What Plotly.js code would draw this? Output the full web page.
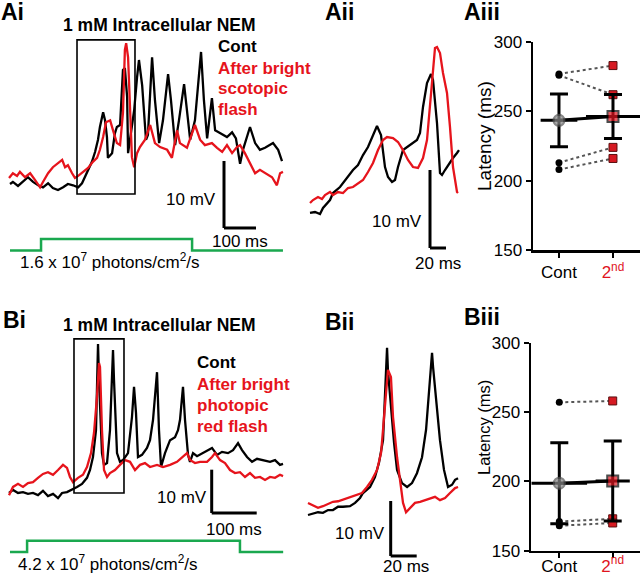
<!DOCTYPE html>
<html><head><meta charset="utf-8">
<script src="https://cdn.plot.ly/plotly-3.0.1.min.js"></script>
<style>html,body{margin:0;padding:0;background:#fff;} #plot{width:640px;height:576px;}</style>
</head><body><div id="plot"></div>
<script>
// ---------- DATA ----------
// Panel Ai : time (ms) / membrane potential (mV, relative to baseline)
const aiTimeCont = [0,9,25,41,56,72,88,103,119,134,150,166,181,197,213,225,234,244,256,266,275,281,291,297,303,306,319,328,334,344,350,353,359,366,369,375,388,397,403,413,425,431,444,453,466,478,494,503,516,528,544,553,563,578,597,606,616,631,641,656,678,694,706,719,728,750,766,781,797,822,838,850];
const aiVCont = [0.9,1.2,0.6,1.2,1.9,1.2,0.7,0.4,1.0,0.3,0,0.4,0.9,0.7,0.4,1.0,1.9,3.0,4.2,5.7,7.5,9.4,11.6,10.4,7.9,4.8,5.5,8.5,9.4,9.7,14.9,17.9,18.2,13.9,5.5,7.5,11.9,16.8,19.4,15.6,7.5,8.2,19.8,13.4,7.0,10.4,17.3,13.4,6.7,10.4,15.8,11.9,7.5,10.4,20.6,13.4,7.7,13.7,8.9,8.5,7.9,8.6,7.7,3.9,6.0,9.4,7.0,6.0,6.3,7.0,6.0,4.3];
const aiTimeFlash = [-3,9,22,31,47,63,78,94,103,119,134,150,163,172,181,194,203,213,228,244,259,272,281,291,300,313,322,334,344,353,359,363,369,375,381,388,397,406,422,438,453,469,491,506,522,531,553,578,594,609,631,647,663,678,694,709,719,734,750,766,781,797,819,834,844,853];
const aiVFlash = [1.8,2.5,2.1,2.7,1.9,2.5,1.5,0.4,1.2,2.5,3.4,4.0,4.5,3.4,3.7,2.5,1.8,2.1,2.7,3.3,4.2,4.8,6.0,7.9,10.1,10.4,8.9,7.0,6.7,11.5,20.9,21.9,19.8,11.5,4.9,3.4,5.5,6.4,7.5,9.7,7.0,6.4,6.0,4.8,8.9,7.0,6.3,9.7,7.5,6.7,7.0,6.3,5.7,6.7,5.5,6.4,6.7,5.5,4.0,2.5,3.0,2.5,1.9,0.7,2.5,2.7];
const stimATime = [0,97,97,569,569,853];
const stimALevel = [0,0,1,1,0,0];

// Panel Aii
const aiiTimeCont = [2.5,8.75,15,18.75,27.5,31.25,40,48.75,56.25,62.5,68.75,75,81.25,86.25,91.25,96.25,100,105,108.75,112.5,118.75,123.75,130,136.25,140,143.75,148.75,153.75,156.25,161.25,165,167.5,171.25,175,181.25,186.25,188.75];
const aiiVCont = [0.26,0.38,0.13,0.9,1.92,2.82,3.59,4.74,5.77,6.41,7.69,8.72,10.26,11.41,10.26,6.15,4.87,4.23,4.49,6.15,8.33,8.72,9.23,9.62,10.51,13.85,16.92,18.08,17.31,11.79,5.38,5.13,5.77,6.41,7.31,7.95,8.33];
const aiiTimeFlash = [2.5,6.25,12.5,17.5,21.25,27.5,31.25,37.5,43.75,50,56.25,62.5,68.75,75,81.25,87.5,93.75,98.75,106.25,112.5,118.75,125,131.25,137.5,143.75,148.75,152.5,156.25,158.75,161.25,165,168.75,173.75,177.5,181.25,186.25,187.5];
const aiiVFlash = [1.54,1.92,2.31,2.05,2.56,2.95,2.56,2.95,2.82,3.46,3.59,4.10,4.49,5.51,6.67,8.33,9.62,10.0,9.87,9.36,8.33,7.05,6.15,6.03,7.31,9.62,13.85,18.97,21.41,21.54,20.77,18.21,15.64,11.28,6.15,2.95,2.82];

// Panel Aiii : latency (ms)
const groups = ['Cont', '2nd'];
const aiiiCont = [277, 276, 213, 208];
const aiiiSecond = [283, 262, 224, 216];

// Panel Bi
const biTimeCont = [-2.2,6.7,17.8,28.9,40,51.1,62.2,73.3,84.4,95.6,106.7,115.6,126.7,137.8,148.9,160,171.1,177.8,184.4,191.1,195.6,197.8,204.4,208.9,215.6,222.2,228.9,231.1,237.8,244.4,251.1,262.2,271.1,275.6,280,284.4,293.3,304.4,311.1,317.8,326.7,331.1,335.6,344.4,355.6,366.7,373.3,377.8,384.4,388.9,395.6,400,406.7,415.6,426.7,437.8,448.9,460,471.1,484.4,495.6,506.7,515.6,526.7,537.8,548.9,562.2,577.8,588.9,600,606.7];
const biVCont = [0,0.7,0,0.2,-0.2,0,-0.5,0.5,-0.7,-0.2,-1.2,0,0.2,0.9,1.4,2.1,3.5,5.3,8.3,14.5,34.4,26.1,9.2,6.5,6.9,14.5,33.0,26.1,9.2,7.2,7.6,9.2,17.6,24.5,18.5,8.3,8.8,10.4,12.2,16.9,27.9,14.5,6.0,9.2,12.2,12.9,14.5,16.9,24.5,16.9,8.8,7.2,9.2,8.5,9.2,9.7,10.4,8.8,9.5,9.2,9.9,11.5,9.9,8.3,7.2,7.9,7.6,7.2,7.6,6.5,6.7];
const biTimeFlash = [-2.2,6.7,17.8,28.9,40,51.1,62.2,73.3,84.4,95.6,106.7,117.8,126.7,133.3,140,151.1,162.2,171.1,180,186.7,193.3,197.8,200,204.4,208.9,215.6,222.2,233.3,244.4,255.6,266.7,277.8,288.9,300,311.1,326.7,340,355.6,371.1,382.2,393.3,400,411.1,422.2,437.8,448.9,455.6,466.7,477.8,488.9,500,511.1,522.2,533.3,544.4,555.6,566.7,577.8,588.9,600,606.7];
const biVFlash = [-0.5,1.4,2.1,1.4,2.3,2.5,3.5,4.4,4.8,4.2,5.3,6.5,5.8,3.7,2.5,3.5,4.2,6.0,9.2,13.9,22.2,30.0,29.1,14.5,5.3,3.7,4.6,5.3,6.5,7.6,7.2,5.3,6.5,6.9,6.0,6.5,6.0,6.5,7.2,8.1,9.2,7.6,6.9,7.2,7.2,8.3,9.2,7.6,6.9,5.3,4.6,4.8,3.7,4.6,3.5,3.7,3.0,3.7,3.5,4.2,3.9];
const stimBTime = [0,38,38,511,511,607];
const stimBLevel = [0,0,1,1,0,0];

// Panel Bii
const biiTimeCont = [0,3.8,7.7,11.5,15.4,19.2,23.1,26.9,32.3,36.2,40,42.3,47.7,51.5,54.6,57.7,59.2,60.8,61.5,63.8,66.2,68.5,72.3,76.2,80,83.8,87.7,90.8,93.1,95.4,96.2,99.2,101.5,104.6,107.7,110.8,113.1,115.4];
const biiVCont = [0,0.2,0.5,0.4,0.9,0.9,1.5,1.5,1.6,2.2,3.1,4.0,5.1,6.9,9.5,13.6,21.3,30.4,26.2,19.1,13.1,8.2,5.8,5.1,5.8,7.6,10.5,15.5,22.7,29.5,26.9,19.6,13.6,8.2,5.1,5.5,6.4,6.7];
const biiTimeFlash = [0,3.8,7.7,11.5,15.4,19.2,23.1,28.5,32.3,37.7,41.5,45.4,49.2,53.1,56.2,57.7,60,61.5,63.8,65.4,68.5,70.8,73.1,75.4,78.5,82.3,86.2,90,93.8,97.7,101.5,105.4,109.2,113.1,115.4];
const biiVFlash = [2.2,1.8,1.3,1.6,2.0,2.4,2.5,2.9,3.3,3.6,4.0,5.1,6.4,8.2,11.3,15.5,21.5,26.4,25.1,17.8,10.5,5.8,2.2,0.5,1.3,2.2,2.4,2.7,3.1,3.3,2.7,3.1,4.0,4.9,5.1];

// Panel Biii : latency (ms)
const biiiCont = [257, 171, 168];
const biiiSecond = [258, 173, 170];

// ---------- HELPERS ----------
const W = 640, H = 576;
const FONT = 'Liberation Sans, Arial, Helvetica, sans-serif';
const RED = '#e6141c', GREEN = '#1aa84f', BLACK = '#000000';
const px = x => x / W;
const py = y => 1 - y / H;
const mean = a => a.reduce((s, v) => s + v, 0) / a.length;
const sem = a => { const m = mean(a); return Math.sqrt(a.reduce((s, v) => s + (v - m) * (v - m), 0) / (a.length - 1)) / Math.sqrt(a.length); };

const traces = [];
function trace(x, y, xa, ya, color, width) {
  traces.push({x: x, y: y, xaxis: xa, yaxis: ya, type: 'scatter', mode: 'lines',
    line: {color: color, width: width}, hoverinfo: 'skip'});
}
// Ai
trace(aiTimeCont, aiVCont, 'x', 'y', BLACK, 2.3);
trace(aiTimeFlash, aiVFlash, 'x', 'y', RED, 2.3);
trace(stimATime, stimALevel, 'x', 'y2', GREEN, 2.5);
// Aii
trace(aiiTimeCont, aiiVCont, 'x3', 'y3', BLACK, 2.3);
trace(aiiTimeFlash, aiiVFlash, 'x3', 'y3', RED, 2.3);
// Bi
trace(biTimeCont, biVCont, 'x5', 'y5', BLACK, 2.3);
trace(biTimeFlash, biVFlash, 'x5', 'y5', RED, 2.3);
trace(stimBTime, stimBLevel, 'x5', 'y6', GREEN, 2.5);
// Bii
trace(biiTimeCont, biiVCont, 'x7', 'y7', BLACK, 2.3);
trace(biiTimeFlash, biiVFlash, 'x7', 'y7', RED, 2.3);

function latencyPanel(cont, second, xa, ya, meanBarHalf) {
  for (let i = 0; i < cont.length; i++) {
    traces.push({x: [0, 1], y: [cont[i], second[i]], xaxis: xa, yaxis: ya, mode: 'lines',
      line: {color: '#555555', width: 2, dash: 'dot'}, hoverinfo: 'skip'});
  }
  traces.push({x: cont.map(() => 0), y: cont, xaxis: xa, yaxis: ya, mode: 'markers',
    marker: {symbol: 'circle', size: 7, color: BLACK}, hoverinfo: 'skip'});
  traces.push({x: second.map(() => 1), y: second, xaxis: xa, yaxis: ya, mode: 'markers',
    marker: {symbol: 'square', size: 8, color: '#d61a22', line: {color: '#5a1010', width: 1}}, hoverinfo: 'skip'});
  traces.push({x: [0, 1], y: [mean(cont), mean(second)], xaxis: xa, yaxis: ya, mode: 'lines+markers',
    line: {color: BLACK, width: 3},
    error_y: {type: 'data', array: [sem(cont), sem(second)], color: BLACK, thickness: 3, width: 9},
    error_x: {type: 'data', array: meanBarHalf, color: BLACK, thickness: 3, width: 0},
    marker: {symbol: ['circle', 'square'], size: [11, 11], color: ['#8a8a8a', '#e0141e'],
      line: {color: ['#555555', BLACK], width: 2}}, hoverinfo: 'skip'});
}
latencyPanel(aiiiCont, aiiiSecond, 'x4', 'y4', [0.34, 0.5]);
latencyPanel(biiiCont, biiiSecond, 'x8', 'y8', [0.52, 0.32]);

// ---------- LAYOUT ----------
const hidden = {visible: false, fixedrange: true};
const tickText = ['Cont', '<span style="color:#e0141e">2<sup>nd</sup></span>'];
function latX(domain, range, anchor, standoff) {
  return {domain: domain, range: range, anchor: anchor, showline: true, linewidth: 2.5, linecolor: BLACK,
    ticks: 'outside', ticklen: 5, tickwidth: 2, tickcolor: BLACK, tickvals: [0, 1], ticktext: tickText,
    ticklabelstandoff: standoff,
    tickfont: {family: FONT, size: 17, color: BLACK}, showgrid: false, zeroline: false, fixedrange: true};
}
function latY(domain, anchor) {
  return {domain: domain, range: [150, 300], anchor: anchor, showline: true, linewidth: 2.5, linecolor: BLACK,
    ticks: 'outside', ticklen: 5, tickwidth: 2, tickcolor: BLACK, tickvals: [150, 200, 250, 300],
    tickfont: {family: FONT, size: 17, color: BLACK}, showgrid: false, zeroline: false, fixedrange: true};
}

const shapes = [];
function line(xa, ya, x0, y0, x1, y1, w) {
  shapes.push({type: 'line', xref: xa, yref: ya, x0: x0, y0: y0, x1: x1, y1: y1, line: {color: BLACK, width: w}});
}
function rect(xa, ya, x0, y0, x1, y1) {
  shapes.push({type: 'rect', xref: xa, yref: ya, x0: x0, y0: y0, x1: x1, y1: y1, line: {color: BLACK, width: 1.6}});
}
// zoom boxes
rect('x', 'y', 209.4, -0.6, 390.6, 22.4);
rect('x5', 'y5', 142.2, 0, 253.3, 35.6);
// scale bars (10 mV / 100 ms or 20 ms)
line('x', 'y', 668.75, -5.67, 668.75, 4.33, 3); line('x', 'y', 668.75, -5.67, 768.75, -5.67, 3);
line('x3', 'y3', 152.5, -4.23, 152.5, 5.77, 3); line('x3', 'y3', 152.5, -4.23, 172.5, -4.23, 3);
line('x5', 'y5', 448.2, -4.62, 448.2, 5.38, 3); line('x5', 'y5', 448.2, -4.62, 548.2, -4.62, 3);
line('x7', 'y7', 63.6, -7.45, 63.6, 2.55, 3); line('x7', 'y7', 63.6, -7.45, 83.6, -7.45, 3);

const annotations = [];
function ann(text, x, y, size, opts) {
  opts = opts || {};
  annotations.push({text: text, x: px(x), y: py(y), xref: 'paper', yref: 'paper', showarrow: false,
    xanchor: opts.xa || 'left', yanchor: opts.ya || 'middle', textangle: opts.angle || 0,
    font: {family: FONT, size: size, color: opts.color || BLACK}});
}
const b = t => '<b>' + t + '</b>';
// A row
ann(b('Ai'), -1, 12, 23);
ann(b('1 mM Intracellular NEM'), 159.5, 25, 17.5, {xa: 'center'});
ann(b('Cont'), 216, 47, 17);
ann(b('After bright'), 216, 68, 17, {color: RED});
ann(b('scotopic'), 216, 88.5, 17, {color: RED});
ann(b('flash'), 216, 109, 17, {color: RED});
ann('10 mV', 218, 199, 17, {xa: 'right'});
ann('100 ms', 240, 241, 17, {xa: 'center'});
ann('1.6 x 10<sup>7</sup> photons/cm<sup>2</sup>/s', 18, 261, 17);
ann(b('Aii'), 323, 12, 23);
ann('10 mV', 424, 221, 17, {xa: 'right'});
ann('20 ms', 438, 264, 17, {xa: 'center'});
ann(b('Aiii'), 462, 12, 23);
ann('Latency (ms)', 484, 136, 19, {xa: 'center', angle: -90});
// B row
ann(b('Bi'), 1, 320, 23);
ann(b('1 mM Intracellular NEM'), 159.5, 325, 17.5, {xa: 'center'});
ann(b('Cont'), 195, 362, 17);
ann(b('After bright'), 195, 384, 17, {color: RED});
ann(b('photopic'), 195, 405, 17, {color: RED});
ann(b('red flash'), 195, 426, 17, {color: RED});
ann('10 mV', 209, 497, 17, {xa: 'right'});
ann('100 ms', 234, 529, 17, {xa: 'center'});
ann('4.2 x 10<sup>7</sup> photons/cm<sup>2</sup>/s', 16, 576, 17, {ya: 'bottom'});
ann(b('Bii'), 323, 322, 23);
ann('10 mV', 387, 533, 17, {xa: 'right'});
ann('20 ms', 406, 566, 17, {xa: 'center'});
ann(b('Biii'), 462, 317, 23);
ann('Latency (ms)', 484, 428, 16.5, {xa: 'center', angle: -90});

const layout = {
  width: W, height: H, autosize: false, margin: {l: 0, r: 0, t: 0, b: 0, pad: 0},
  paper_bgcolor: '#ffffff', plot_bgcolor: 'rgba(0,0,0,0)', showlegend: false,
  font: {family: FONT, color: BLACK},
  xaxis: Object.assign({domain: [0, px(300)], range: [-31.25, 906.25], anchor: 'y'}, hidden),
  yaxis: Object.assign({domain: [py(260), py(30)], range: [-10.45, 23.88], anchor: 'x'}, hidden),
  yaxis2: Object.assign({domain: [py(260), py(230)], range: [-0.81, 1.776], anchor: 'x'}, hidden),
  xaxis3: Object.assign({domain: [px(300), px(470)], range: [-10, 202.5], anchor: 'y3'}, hidden),
  yaxis3: Object.assign({domain: [py(270), py(30)], range: [-7.05, 23.72], anchor: 'x3'}, hidden),
  xaxis4: latX([px(533), 1], [-0.481, 1.5], 'y4', 0),
  yaxis4: latY([py(250), py(42)], 'x4'),
  xaxis5: Object.assign({domain: [0, px(300)], range: [-22.2, 644.4], anchor: 'y5'}, hidden),
  yaxis5: Object.assign({domain: [py(520), py(320)], range: [-6.24, 39.95], anchor: 'x5'}, hidden),
  yaxis6: Object.assign({domain: [py(560), py(530)], range: [-0.708, 1.947], anchor: 'x5'}, hidden),
  xaxis7: Object.assign({domain: [px(300), px(470)], range: [-6.15, 124.6], anchor: 'y7'}, hidden),
  yaxis7: Object.assign({domain: [py(570), py(330)], range: [-10, 33.64], anchor: 'x7'}, hidden),
  xaxis8: latX([px(531), 1], [-0.53, 1.511], 'y8', -7),
  yaxis8: latY([py(550.7), py(342.7)], 'x8'),
  shapes: shapes, annotations: annotations
};
Plotly.newPlot('plot', traces, layout, {staticPlot: true, displayModeBar: false});
</script></body></html>
